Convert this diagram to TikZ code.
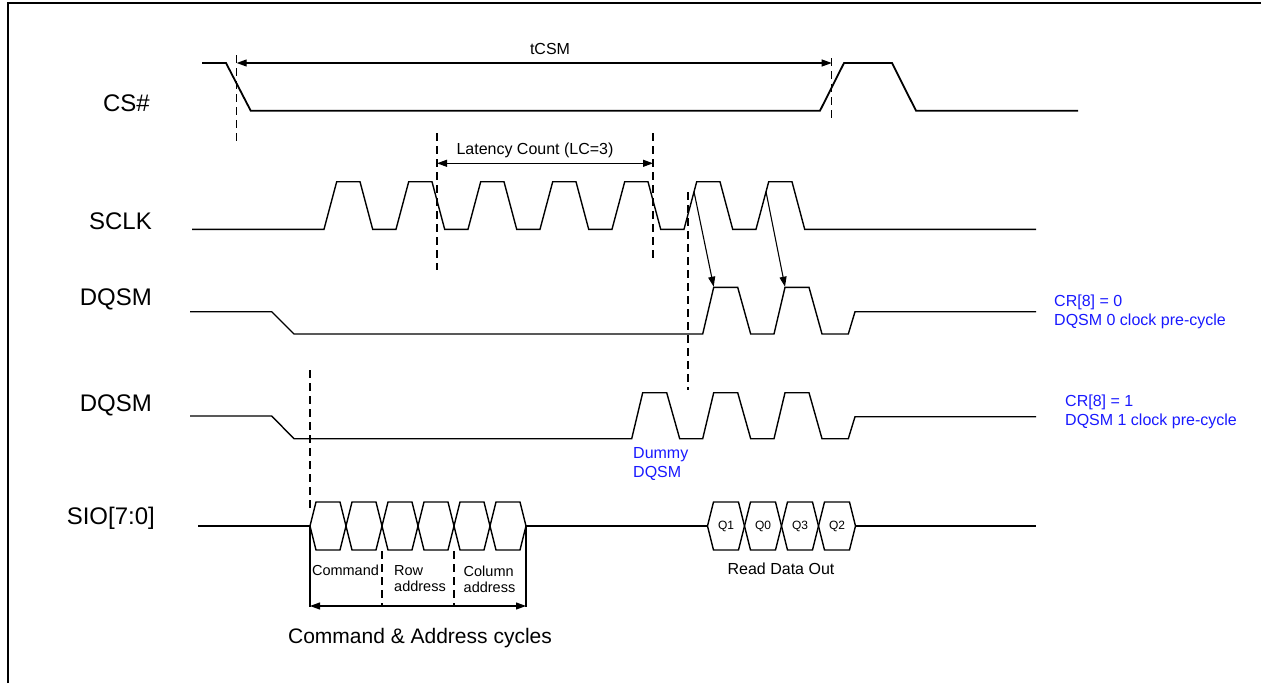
\documentclass[tikz,border=0pt]{standalone}
\usepackage{fontspec}
\setmainfont{Liberation Sans}
\usetikzlibrary{arrows.meta}
\definecolor{noteblue}{RGB}{25,25,255}
\tikzstyle{sig} = [line width=1.4pt, line join=miter]
\tikzstyle{guide} = [line width=1.1pt, dash pattern=on 8pt off 5pt]

\begin{document}
\begin{tikzpicture}[x=1pt,y=-1pt,
		>={Triangle[length=10pt,width=7pt]},
		signame/.style={anchor=base east,inner sep=0,font=\fontsize{24}{28}\selectfont},
		small/.style={inner sep=0,font=\fontsize{16}{19}\selectfont},
		cell/.style={inner sep=0,font=\fontsize{12}{14}\selectfont},
		field/.style={inner sep=0,align=left,anchor=west,font=\fontsize{14.5}{16}\selectfont},
		note/.style={inner sep=0,align=left,anchor=west,text=noteblue,font=\fontsize{16}{19}\selectfont}]
		\useasboundingbox (0,0) rectangle (1261,683);
		\draw [line width=2pt] (8,683) -- (8,3) -- (1261,3);
		\node (cs) [signame] at (150,111) {CS\#};
		\node (sclk) [signame] at (152,229) {SCLK};
		\node (dqsm0) [signame] at (152,305) {DQSM};
		\node (dqsm1) [signame] at (152,411) {DQSM};
		\node (sio) [signame] at (155,524) {SIO[7:0]};
		\draw [sig,line width=1.8pt] (202,63) -- (226,63) -- (250.7,110.7) -- (820,110.7) -- (844,63) -- (892,63) -- (916,110.7) -- (1078,110.7);
		\draw [sig] (192,229.3) foreach \s in {324,396,...,756} { -- (\s,229.3) -- ++(12.7,-47.6) -- ++(23.3,0) -- ++(12.7,47.6) } -- (1036,229.3);
		\draw [sig] (190,311.7) -- (271.7,311.7) -- (294,334) foreach \s in {702.7,774} { -- (\s,334) -- ++(11,-46.7) -- ++(24,0) -- ++(13,46.7) } -- (848.3,334) -- (855,311.7) -- (1036,311.7);
		\draw [sig] (190,416) -- (271.7,416) -- (294,438.7) foreach \s in {631.7,702.7,774} { -- (\s,438.7) -- ++(11,-46) -- ++(24,0) -- ++(13,46) } -- (848.3,438.7) -- (855,416.7) -- (1036,416.7);
		\draw [sig] (198,526) -- (310,526);
		\foreach \a in {310,346,...,490}
			\draw [sig] (\a,526) -- ++(6,-24) -- ++(24,0) -- ++(6,24) -- ++(-6,24) -- ++(-24,0) -- cycle;
		\draw [sig] (526,526) -- (707.5,526);
		\foreach \a/\q/\n in {707.5/Q1/q1,744.5/Q0/q0,781.5/Q3/q3,818.5/Q2/q2}{
			\draw [sig] (\a,526) -- ++(6,-24) -- ++(25,0) -- ++(6,24) -- ++(-6,24) -- ++(-25,0) -- cycle;
			\node (\n) [cell] at (\a+18.5,526) {\q};
		}
		\draw [sig] (855.5,526) -- (1036,526);
		\draw [guide] (236.7,55) -- (236.7,143);
		\draw [guide] (831.7,58) -- (831.7,122);
		\draw [guide] (437,133) -- (437,270);
		\draw [guide] (653,133) -- (653,258);
		\draw [guide] (688,192) -- (688,390);
		\draw [guide] (310,370) -- (310,512);
		\draw [guide] (382,551) -- (382,606);
		\draw [guide] (454,551) -- (454,606);
		\draw [line width=1.1pt] (310,526) -- (310,607);
		\draw [line width=1.1pt] (526,526) -- (526,607);
		\coordinate (csfall) at (236.7,63);
		\coordinate (csrise) at (831.7,63);
		\coordinate (lcstart) at (437,163.3);
		\coordinate (lcend) at (653,163.3);
		\coordinate (clk6) at (694,191.7);
		\coordinate (clk7) at (766,191.7);
		\coordinate (dq6) at (713.7,286.7);
		\coordinate (dq7) at (785,286.7);
		\coordinate (cmdstart) at (310,606);
		\coordinate (cmdend) at (526,606);
		\draw [<->,line width=1.1pt] (csfall) -- (csrise);
		\draw [<->,line width=1.1pt] (lcstart) -- (lcend);
		\draw [->,line width=1.1pt] (clk6) -- (dq6);
		\draw [->,line width=1.1pt] (clk7) -- (dq7);
		\draw [<->,line width=1.1pt] (cmdstart) -- (cmdend);
		\node (tcsm) [small] at (550,49) {tCSM};
		\node (lc) [small] at (535,150) {Latency Count (LC=3)};
		\node (cmd) [field,anchor=center] at (345.5,570.5) {Command};
		\node (row) [field] at (394,579) {Row\\address};
		\node (col) [field] at (463.5,579) {Column\\address};
		\node (cac) [inner sep=0,font=\fontsize{21}{24}\selectfont] at (420,638) {Command \& Address cycles};
		\node (rdo) [small] at (781,569) {Read Data Out};
		\node (dummy) [note] at (633,464) {Dummy\\DQSM};
		\node (cr0) [note] at (1054,311.5) {CR[8] = 0\\DQSM 0 clock pre-cycle};
		\node (cr1) [note] at (1065,411.7) {CR[8] = 1\\DQSM 1 clock pre-cycle};
\end{tikzpicture}
\end{document}
